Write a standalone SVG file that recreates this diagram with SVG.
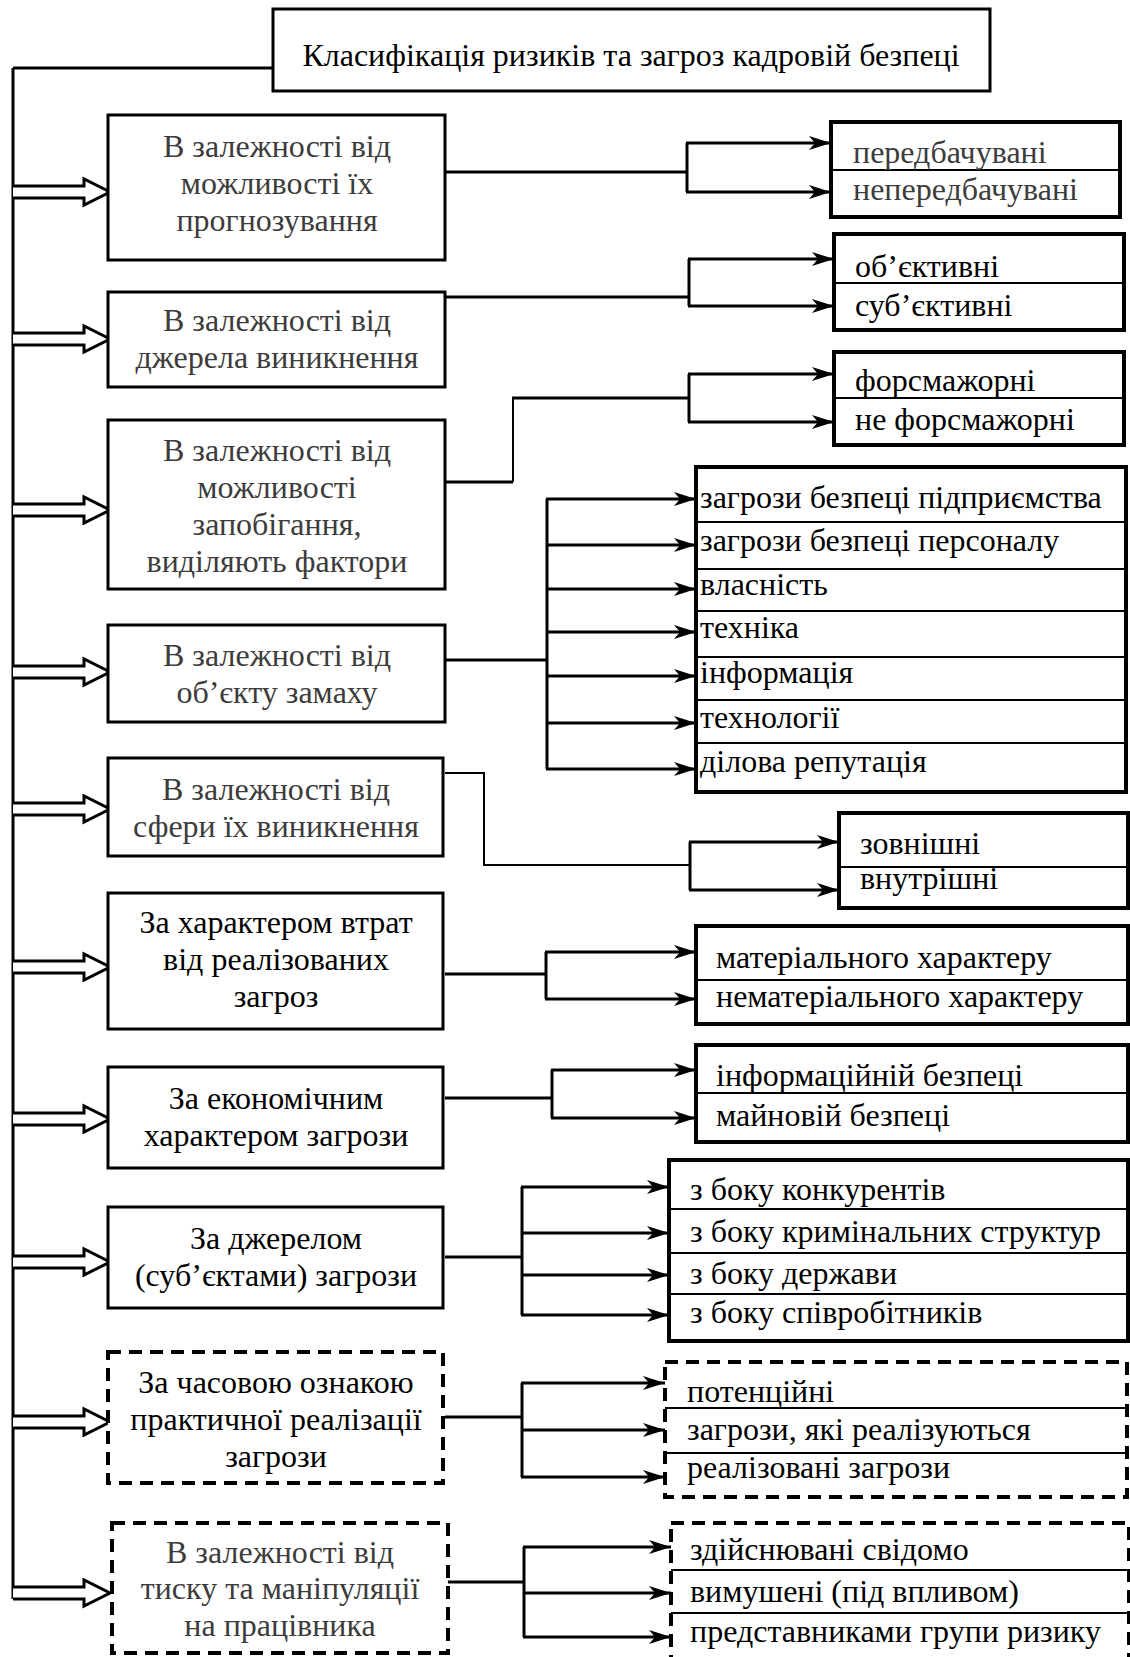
<svg xmlns="http://www.w3.org/2000/svg" width="1130" height="1657" viewBox="0 0 1130 1657">
<style>
text{font-family:"Liberation Serif","Times New Roman",serif;font-size:32px;fill:#000}
.g{fill:#3c3c3c}
.c{text-anchor:middle}
.box{fill:#fff;stroke:#000;stroke-width:3}
.rbox{fill:#fff;stroke:#000;stroke-width:4}
.dash{fill:#fff;stroke:#000;stroke-width:4;stroke-dasharray:13 8}
.div{stroke:#000;stroke-width:2}
.ln{fill:none;stroke:#000;stroke-width:3}
.thin{fill:none;stroke:#000;stroke-width:2}
.ar{fill:none;stroke:#000;stroke-width:3;marker-end:url(#ah)}
.blk{fill:#fff;stroke:#000;stroke-width:3;stroke-linejoin:miter}
</style>
<defs>
<marker id="ah" markerUnits="userSpaceOnUse" markerWidth="24" markerHeight="16" refX="22" refY="8" orient="auto">
<path d="M0,1 L22,8 L0,15 L6,8 z" fill="#000"/>
</marker>
</defs>

<g id="connectors">
<polyline class="ln" points="13,68 273,68"/>
<line class="ln" x1="13" y1="68" x2="13" y2="1599"/>
<path class="blk" d="M13,186 H84 V179 L110,192 L84,205 V198 H13"/>
<path class="blk" d="M13,333 H84 V326 L110,339 L84,352 V345 H13"/>
<path class="blk" d="M13,504 H84 V497 L110,510 L84,523 V516 H13"/>
<path class="blk" d="M13,666 H84 V659 L110,672 L84,685 V678 H13"/>
<path class="blk" d="M13,803 H84 V796 L110,809 L84,822 V815 H13"/>
<path class="blk" d="M13,961 H84 V954 L110,967 L84,980 V973 H13"/>
<path class="blk" d="M13,1113 H84 V1106 L110,1119 L84,1132 V1125 H13"/>
<path class="blk" d="M13,1256 H84 V1249 L110,1262 L84,1275 V1268 H13"/>
<path class="blk" d="M13,1416 H84 V1409 L110,1422 L84,1435 V1428 H13"/>
<path class="blk" d="M13,1587 H84 V1580 L110,1593 L84,1606 V1599 H13"/>

<!-- 1 -->
<line class="ln" x1="445" y1="172" x2="687" y2="172"/>
<line class="ln" x1="687" y1="143" x2="687" y2="192"/>
<line class="ar" x1="686" y1="143" x2="831" y2="143"/>
<line class="ar" x1="686" y1="192" x2="831" y2="192"/>
<!-- 2 -->
<line class="ln" x1="445" y1="297" x2="689" y2="297"/>
<line class="ln" x1="689" y1="259" x2="689" y2="306"/>
<line class="ar" x1="688" y1="259" x2="834" y2="259"/>
<line class="ar" x1="688" y1="306" x2="834" y2="306"/>
<!-- 3 -->
<line class="ln" x1="445" y1="482" x2="513" y2="482"/>
<line class="thin" x1="513" y1="482" x2="513" y2="398"/>
<line class="ln" x1="512" y1="398" x2="689" y2="398"/>
<line class="ln" x1="689" y1="374" x2="689" y2="422"/>
<line class="ar" x1="688" y1="374" x2="834" y2="374"/>
<line class="ar" x1="688" y1="422" x2="834" y2="422"/>
<!-- 4 -->
<line class="ln" x1="445" y1="660" x2="547" y2="660"/>
<line class="ln" x1="547" y1="499" x2="547" y2="769"/>
<line class="ar" x1="546" y1="499" x2="696" y2="499"/>
<line class="ar" x1="546" y1="545" x2="696" y2="545"/>
<line class="ar" x1="546" y1="589" x2="696" y2="589"/>
<line class="ar" x1="546" y1="632" x2="696" y2="632"/>
<line class="ar" x1="546" y1="676" x2="696" y2="676"/>
<line class="ar" x1="546" y1="723" x2="696" y2="723"/>
<line class="ar" x1="546" y1="769" x2="696" y2="769"/>
<!-- 5 -->
<polyline class="thin" points="445,773 484,773 484,865 690,865"/>
<line class="ln" x1="690" y1="842" x2="690" y2="890"/>
<line class="ar" x1="689" y1="842" x2="839" y2="842"/>
<line class="ar" x1="689" y1="890" x2="839" y2="890"/>
<!-- 6 -->
<line class="ln" x1="445" y1="974" x2="546" y2="974"/>
<line class="ln" x1="546" y1="952" x2="546" y2="999"/>
<line class="ar" x1="545" y1="952" x2="696" y2="952"/>
<line class="ar" x1="545" y1="999" x2="696" y2="999"/>
<!-- 7 -->
<line class="ln" x1="445" y1="1098" x2="552" y2="1098"/>
<line class="ln" x1="552" y1="1070" x2="552" y2="1118"/>
<line class="ar" x1="551" y1="1070" x2="696" y2="1070"/>
<line class="ar" x1="551" y1="1118" x2="696" y2="1118"/>
<!-- 8 -->
<line class="ln" x1="445" y1="1257" x2="522" y2="1257"/>
<line class="ln" x1="522" y1="1187" x2="522" y2="1315"/>
<line class="ar" x1="521" y1="1187" x2="669" y2="1187"/>
<line class="ar" x1="521" y1="1233" x2="669" y2="1233"/>
<line class="ar" x1="521" y1="1275" x2="669" y2="1275"/>
<line class="ar" x1="521" y1="1315" x2="669" y2="1315"/>
<!-- 9 -->
<line class="ln" x1="445" y1="1417" x2="522" y2="1417"/>
<line class="ln" x1="522" y1="1383" x2="522" y2="1477"/>
<line class="ar" x1="521" y1="1383" x2="665" y2="1383"/>
<line class="ar" x1="521" y1="1430" x2="665" y2="1430"/>
<line class="ar" x1="521" y1="1477" x2="665" y2="1477"/>
<!-- 10 -->
<line class="ln" x1="448" y1="1582" x2="524" y2="1582"/>
<line class="ln" x1="524" y1="1547" x2="524" y2="1637"/>
<line class="ar" x1="523" y1="1547" x2="671" y2="1547"/>
<line class="ar" x1="523" y1="1593" x2="671" y2="1593"/>
<line class="ar" x1="523" y1="1637" x2="671" y2="1637"/>
</g>

<g id="title">
<rect class="box" x="273" y="9" width="717" height="82"/>
<text class="c" x="631" y="66">Класифікація ризиків та загроз кадровій безпеці</text>
</g>

<g id="n1">
<rect class="box" x="108" y="115" width="337" height="145"/>
<text class="c g" x="277" y="157">В залежності від</text>
<text class="c g" x="277" y="194">можливості їх</text>
<text class="c g" x="277" y="231">прогнозування</text>
</g>
<g id="n2">
<rect class="box" x="108" y="292" width="337" height="95"/>
<text class="c g" x="277" y="331">В залежності від</text>
<text class="c g" x="277" y="368">джерела виникнення</text>
</g>
<g id="n3">
<rect class="box" x="108" y="420" width="337" height="169"/>
<text class="c g" x="277" y="461">В залежності від</text>
<text class="c g" x="277" y="498">можливості</text>
<text class="c g" x="277" y="535">запобігання,</text>
<text class="c g" x="277" y="572">виділяють фактори</text>
</g>
<g id="n4">
<rect class="box" x="108" y="625" width="337" height="97"/>
<text class="c g" x="277" y="666">В залежності від</text>
<text class="c g" x="277" y="703">об’єкту замаху</text>
</g>
<g id="n5">
<rect class="box" x="108" y="758" width="335" height="98"/>
<text class="c g" x="276" y="800">В залежності від</text>
<text class="c g" x="276" y="837">сфери їх виникнення</text>
</g>
<g id="n6">
<rect class="box" x="108" y="893" width="335" height="136"/>
<text class="c" x="276" y="933">За характером втрат</text>
<text class="c" x="276" y="970">від реалізованих</text>
<text class="c" x="276" y="1007">загроз</text>
</g>
<g id="n7">
<rect class="box" x="108" y="1067" width="335" height="101"/>
<text class="c" x="276" y="1109">За економічним</text>
<text class="c" x="276" y="1146">характером загрози</text>
</g>
<g id="n8">
<rect class="box" x="108" y="1207" width="335" height="101"/>
<text class="c" x="276" y="1249">За джерелом</text>
<text class="c" x="276" y="1286">(суб’єктами) загрози</text>
</g>
<g id="n9">
<rect class="dash" x="108" y="1352" width="335" height="131"/>
<text class="c" x="276" y="1393">За часовою ознакою</text>
<text class="c" x="276" y="1430">практичної реалізації</text>
<text class="c" x="276" y="1467">загрози</text>
</g>
<g id="n10">
<rect class="dash" x="112" y="1523" width="336" height="130"/>
<text class="c g" x="280" y="1563">В залежності від</text>
<text class="c g" x="280" y="1599">тиску та маніпуляції</text>
<text class="c g" x="280" y="1636">на працівника</text>
</g>

<g id="r1">
<rect class="rbox" x="831" y="122" width="289" height="95"/>
<line class="div" x1="831" y1="170" x2="1120" y2="170"/>
<text class="g" x="853" y="163">передбачувані</text>
<text class="g" x="853" y="200">непередбачувані</text>
</g>
<g id="r2">
<rect class="rbox" x="834" y="234" width="290" height="96"/>
<line class="div" x1="834" y1="283" x2="1124" y2="283"/>
<text x="855" y="277">об’єктивні</text>
<text x="855" y="316">суб’єктивні</text>
</g>
<g id="r3">
<rect class="rbox" x="834" y="352" width="290" height="93"/>
<line class="div" x1="834" y1="398" x2="1124" y2="398"/>
<text x="855" y="391">форсмажорні</text>
<text x="855" y="430">не форсмажорні</text>
</g>
<g id="r4">
<rect class="rbox" x="696" y="467" width="430" height="325"/>
<line class="div" x1="696" y1="522" x2="1126" y2="522"/>
<line class="div" x1="696" y1="569" x2="1126" y2="569"/>
<line class="div" x1="696" y1="611" x2="1126" y2="611"/>
<line class="div" x1="696" y1="657" x2="1126" y2="657"/>
<line class="div" x1="696" y1="700" x2="1126" y2="700"/>
<line class="div" x1="696" y1="743" x2="1126" y2="743"/>
<text x="700" y="508">загрози безпеці підприємства</text>
<text x="700" y="551">загрози безпеці персоналу</text>
<text x="700" y="595">власність</text>
<text x="700" y="638">техніка</text>
<text x="700" y="683">інформація</text>
<text x="700" y="728">технології</text>
<text x="700" y="772">ділова репутація</text>
</g>
<g id="r5">
<rect class="rbox" x="839" y="813" width="289" height="95"/>
<line class="div" x1="839" y1="867" x2="1128" y2="867"/>
<text x="860" y="854">зовнішні</text>
<text x="860" y="889">внутрішні</text>
</g>
<g id="r6">
<rect class="rbox" x="696" y="926" width="432" height="98"/>
<line class="div" x1="696" y1="980" x2="1128" y2="980"/>
<text x="716" y="968">матеріального характеру</text>
<text x="716" y="1007">нематеріального характеру</text>
</g>
<g id="r7">
<rect class="rbox" x="696" y="1045" width="432" height="97"/>
<line class="div" x1="696" y1="1093" x2="1128" y2="1093"/>
<text x="716" y="1086">інформаційній безпеці</text>
<text x="716" y="1126">майновій безпеці</text>
</g>
<g id="r8">
<rect class="rbox" x="669" y="1160" width="459" height="181"/>
<line class="div" x1="669" y1="1209" x2="1128" y2="1209"/>
<line class="div" x1="669" y1="1253" x2="1128" y2="1253"/>
<line class="div" x1="669" y1="1294" x2="1128" y2="1294"/>
<text x="690" y="1200">з боку конкурентів</text>
<text x="690" y="1242">з боку кримінальних структур</text>
<text x="690" y="1284">з боку держави</text>
<text x="690" y="1323">з боку співробітників</text>
</g>
<g id="r9">
<rect class="dash" x="665" y="1362" width="462" height="135"/>
<line class="div" x1="665" y1="1408" x2="1127" y2="1408"/>
<line class="div" x1="665" y1="1453" x2="1127" y2="1453"/>
<text x="687" y="1402">потенційні</text>
<text x="687" y="1440">загрози, які реалізуються</text>
<text x="687" y="1478">реалізовані загрози</text>
</g>
<g id="r10">
<rect class="dash" x="671" y="1523" width="458" height="150"/>
<line class="div" x1="671" y1="1570" x2="1129" y2="1570"/>
<line class="div" x1="671" y1="1613" x2="1129" y2="1613"/>
<text x="690" y="1560">здійснювані свідомо</text>
<text x="690" y="1602">вимушені (під впливом)</text>
<text x="690" y="1642">представниками групи ризику</text>
</g>
</svg>
